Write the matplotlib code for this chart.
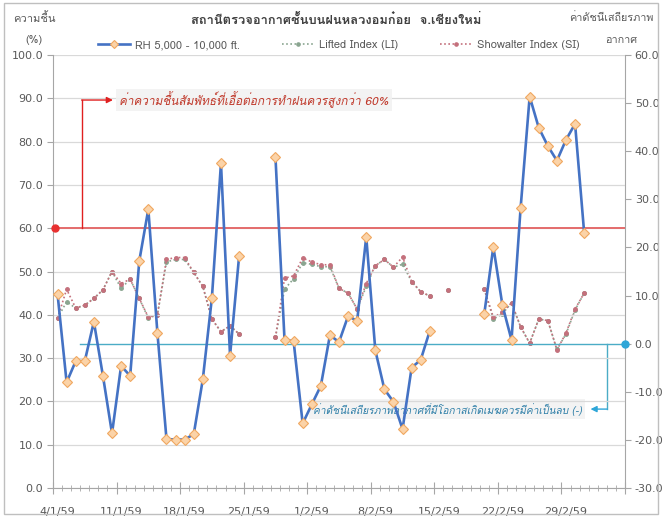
import numpy as np
import matplotlib
matplotlib.use('Agg')
import matplotlib.pyplot as plt
from matplotlib import font_manager
from matplotlib.ft2font import FT2Font
from matplotlib.lines import Line2D
from matplotlib.patches import Rectangle

nan = np.nan

# ---------------- data ----------------
n_days = 63  # 4/1/59 .. 6/3/59 (one slot per day)
tick_labels = ['4/1/59', '11/1/59', '18/1/59', '25/1/59', '1/2/59',
               '8/2/59', '15/2/59', '22/2/59', '29/2/59']

rh = [44.8, 24.4, 29.3, 29.3, 38.4, 25.9, 12.6, 28.2, 25.9, 52.4,
      64.4, 35.8, 11.3, 11.2, 11.2, 12.4, 25.1, 43.9, 75.0, 30.6,
      53.6, nan, nan, nan, 76.5, 34.2, 33.9, 14.9, 19.3, 23.6,
      35.3, 33.7, 39.7, 38.6, 58.0, 31.8, 22.8, 19.9, 13.6, 27.8,
      29.6, 36.3, nan, nan, nan, nan, nan, 40.2, 55.7, 42.2,
      34.2, 64.6, 90.4, 83.2, 79.0, 75.6, 80.4, 84.1, 59.0]

li = [5.3, 8.7, 7.4, 8.0, 9.4, 11.2, 15.0, 11.5, 13.4, 9.4,
      5.3, 6.0, 17.0, 17.5, 17.5, 14.8, 11.9, 5.1, 2.5, 3.7,
      2.0, nan, nan, nan, 1.3, 11.3, 13.5, 16.8, 16.5, 16.0,
      16.0, 11.5, 10.5, 7.2, 11.9, 16.2, 17.5, 15.9, 16.5, 12.9,
      10.8, 9.9, nan, 11.2, nan, nan, nan, 11.3, 5.1, 6.2,
      8.5, 3.5, 0.1, 5.1, 4.8, -1.2, 2.0, 7.0, 10.5]

si = [5.3, 11.3, 7.4, 8.0, 9.4, 11.2, 15.0, 12.5, 13.4, 9.4,
      5.5, 6.0, 17.5, 17.9, 17.9, 14.8, 11.9, 5.1, 2.5, 3.7,
      2.0, nan, nan, nan, 1.3, 13.6, 14.1, 17.8, 17.0, 16.4,
      16.4, 11.5, 10.5, 7.2, 12.5, 16.2, 17.5, 15.9, 18.0, 12.9,
      10.8, 9.9, nan, 11.2, nan, nan, nan, 11.3, 5.5, 6.5,
      8.5, 3.5, 0.1, 5.1, 4.8, -1.3, 2.2, 7.2, 10.5]

rh_threshold = 60.0
index_threshold = 0.0

title = 'สถานีตรวจอากาศชั้นบนฝนหลวงอมก๋อย  จ.เชียงใหม่'
left_label = ['ความชื้น', '(%)']
right_label = ['ค่าดัชนีเสถียรภาพ', 'อากาศ']
series_names = ['RH 5,000 - 10,000 ft.', 'Lifted Index (LI)', 'Showalter Index (SI)']
note_rh = 'ค่าความชื้นสัมพัทธ์ที่เอื้อต่อการทำฝนควรสูงกว่า 60%'
note_idx = 'ค่าดัชนีเสถียรภาพอากาศที่มีโอกาสเกิดเมฆควรมีค่าเป็นลบ (-)'


# ---------------- fonts ----------------
def thai_families():
    fams = []
    for f in font_manager.fontManager.ttflist:
        try:
            cm = FT2Font(f.fname).get_charmap()
        except Exception:
            continue
        if 0x0E01 in cm and 0x0E2A in cm and 0x0E48 in cm:
            if f.name not in fams:
                fams.append(f.name)
    return fams


FAM = thai_families() + ['DejaVu Sans']
plt.rcParams['font.family'] = FAM

GRAY = '#595959'
BLUE = '#4472C4'
LI_C = '#8AA590'
SI_C = '#C4707C'
RED = '#E02020'
CYAN = '#4BACC6'

W, H = 665, 522
fig = plt.figure(figsize=(W / 100, H / 100), dpi=100)
L, R, T, B = 53, 625, 55, 488
ax = fig.add_axes([L / W, 1 - B / H, (R - L) / W, (B - T) / H])
ax2 = ax.twinx()
ax.set_zorder(ax2.get_zorder() + 1)
ax.patch.set_visible(False)

# chart border
fig.patches.append(Rectangle((4 / W, 1 - 514 / H), 654 / W, 511 / H,
                             transform=fig.transFigure, fill=False,
                             edgecolor='#BFBFBF', lw=1.0))

x = np.arange(len(rh)) + 0.5

# index series (right axis)
ax2.plot(x, li, color=LI_C, lw=1.2, ls=(0, (1, 1.5)), marker='o', ms=2.5,
         mfc=LI_C, mec=LI_C, zorder=3)
ax2.plot(x, si, color=SI_C, lw=1.2, ls=(0, (1, 1.5)), marker='o', ms=2.5,
         mfc=SI_C, mec=SI_C, zorder=3)

# RH (left axis)
ax.plot(x, rh, color=BLUE, lw=1.9, marker='D', ms=4.8, mfc='#FBD3A8',
        mec='#F0A860', mew=0.8, zorder=5)

# axes limits & ticks
ax.set_xlim(0, n_days)
ax.set_ylim(0, 100)
ax2.set_ylim(-30, 60)
ax.set_yticks(np.arange(0, 101, 10))
ax2.set_yticks(np.arange(-30, 61, 10))
ax.yaxis.set_major_formatter(matplotlib.ticker.FormatStrFormatter('%.1f'))
ax2.yaxis.set_major_formatter(matplotlib.ticker.FormatStrFormatter('%.1f'))
ax.set_xticks(np.arange(0, n_days + 1, 7))
ax.set_xticks(np.arange(0, n_days + 1, 1), minor=True)
ax.set_xticklabels([])
for i, lab in enumerate(tick_labels):
    ax.text(i * 7 + 0.5, -0.045, lab, transform=ax.get_xaxis_transform(),
            ha='center', va='top', fontsize=8, color=GRAY,
            family=['DejaVu Sans'])

ax.grid(axis='y', color='#D9D9D9', lw=0.9, zorder=0)
ax.set_axisbelow(True)
for a in (ax, ax2):
    a.spines['top'].set_visible(False)
    for s in ('left', 'right', 'bottom'):
        a.spines[s].set_color('#A6A6A6')
ax.spines['right'].set_visible(False)
ax2.spines['left'].set_visible(False)
ax2.spines['bottom'].set_visible(False)
ax.tick_params(axis='y', colors='#A6A6A6', labelcolor=GRAY, labelsize=8,
               direction='out', length=4, pad=3)
ax2.tick_params(axis='y', colors='#A6A6A6', labelcolor=GRAY, labelsize=8,
                direction='out', length=4, pad=3)
ax.tick_params(axis='x', which='major', direction='inout', length=8,
               colors='#A6A6A6')
ax.tick_params(axis='x', which='minor', direction='inout', length=4,
               colors='#A6A6A6')
for t in ax.get_yticklabels() + ax2.get_yticklabels():
    t.set_family(['DejaVu Sans'])

# threshold lines
ax.axhline(rh_threshold, color='#E46C6C', lw=1.4, zorder=4)
ax.plot([0.2], [rh_threshold], marker='o', ms=5, color='#E83030', zorder=6,
        clip_on=False)
ax2.plot([3.0, n_days], [index_threshold, index_threshold], color=CYAN,
         lw=1.0, zorder=4)
ax2.plot([n_days], [index_threshold], marker='o', ms=5, color='#2EA6D8',
         clip_on=False, zorder=6)

# red annotation connector
ax.plot([3.2, 3.2], [rh_threshold, 89.6], color=RED, lw=1.0, zorder=6)
ax.annotate('', xy=(6.6, 89.6), xytext=(3.15, 89.6),
            arrowprops=dict(arrowstyle='-|>', color=RED, lw=1.0,
                            mutation_scale=9, shrinkA=0, shrinkB=0),
            zorder=6)
ax.text(7.3, 89.6, note_rh, color='#C0392B', fontsize=8.5, style='italic',
        ha='left', va='center', zorder=7,
        bbox=dict(boxstyle='square,pad=0.25', fc='#F2F2F2', ec='none',
                  alpha=0.9))

# cyan annotation connector (right-axis units)
ax2.plot([61.0, 61.0], [index_threshold, -13.6], color=CYAN, lw=1.0,
         zorder=6)
ax2.annotate('', xy=(59.2, -13.6), xytext=(61.05, -13.6),
             arrowprops=dict(arrowstyle='-|>', color='#2EA6D8', lw=1.0,
                             mutation_scale=9, shrinkA=0, shrinkB=0),
             zorder=6)
ax2.text(58.2, -13.6, note_idx, color='#2F7FA8', fontsize=7.4,
         style='italic', ha='right', va='center', zorder=7,
         bbox=dict(boxstyle='square,pad=0.35', fc='#F2F2F2', ec='none',
                   alpha=0.9))

# titles
fig.text(336 / W, 1 - 20 / H, title, ha='center', va='center', fontsize=9.3,
         fontweight='bold', color='#404040')
fig.text(34 / W, 1 - 18 / H, left_label[0], ha='center', va='center',
         fontsize=8, color=GRAY)
fig.text(34 / W, 1 - 40 / H, left_label[1], ha='center', va='center',
         fontsize=8, color=GRAY)
fig.text(611 / W, 1 - 18 / H, right_label[0], ha='center', va='center',
         fontsize=7.8, color=GRAY)
fig.text(621 / W, 1 - 40 / H, right_label[1], ha='center', va='center',
         fontsize=7.8, color=GRAY)

# legend
handles = [
    Line2D([], [], color=BLUE, lw=1.9, marker='D', ms=4.5, mfc='#FBD3A8',
           mec='#F0A860', mew=0.8),
    Line2D([], [], color=LI_C, lw=1.2, ls=(0, (1, 1.5)), marker='o', ms=2.3),
    Line2D([], [], color=SI_C, lw=1.2, ls=(0, (1, 1.5)), marker='o', ms=2.3),
]
leg = fig.legend(handles, series_names, loc='center',
                 bbox_to_anchor=(339 / W, 1 - 45 / H), ncol=3, frameon=False,
                 fontsize=8, handlelength=2.8, handletextpad=0.5,
                 columnspacing=3.8, borderpad=0)
for t in leg.get_texts():
    t.set_color(GRAY)

fig.savefig('out.png', dpi=100)
